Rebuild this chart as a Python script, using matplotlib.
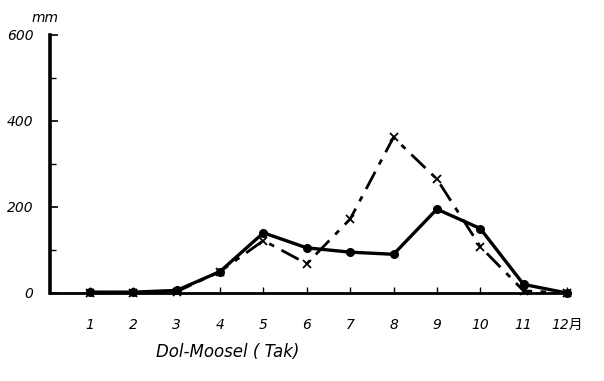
import matplotlib
matplotlib.use("Agg")
import matplotlib.pyplot as plt
from matplotlib.ticker import MultipleLocator

plt.rcParams['font.family'] = ['DejaVu Sans', 'Noto Sans CJK SC']

months = [1, 2, 3, 4, 5, 6, 7, 8, 9, 10, 11, 12]
month_labels = ["1", "2", "3", "4", "5", "6", "7", "8", "9", "10", "11", "12月"]
solid_series = [2, 2, 6, 50, 140, 105, 95, 90, 195, 150, 20, 0]
dashdot_series = [0, 0, 3, 50, 122, 68, 172, 362, 265, 108, 5, 0]
y_ticks = [0, 200, 400, 600]

fig = plt.figure(figsize=(6.04, 3.81), dpi=100)
ax = fig.add_axes([50/604, 1-293/381, 520/604, 258/381])

ax.plot(months, dashdot_series, color='black', lw=2.0, linestyle=(0, (7, 3, 2, 3)),
        marker='x', markersize=6, markeredgewidth=1.3, clip_on=False, zorder=3)
ax.plot(months, solid_series, color='black', lw=2.4, linestyle='-',
        marker='o', markersize=5.5, clip_on=False, zorder=4)

ax.set_xlim(0.078, 12.07)
ax.set_ylim(0, 600)
ax.set_xticks(months)
ax.set_xticklabels(month_labels, fontstyle='italic', fontsize=10)
ax.set_yticks(y_ticks)
ax.set_yticklabels([str(v) for v in y_ticks], fontstyle='italic', fontsize=10)
ax.yaxis.set_minor_locator(MultipleLocator(100))

ax.spines['top'].set_visible(False)
ax.spines['right'].set_visible(False)
ax.spines['left'].set_linewidth(2.6)
ax.spines['bottom'].set_linewidth(2.0)
ax.tick_params(axis='x', direction='in', length=4, width=1, pad=18)
ax.tick_params(axis='y', which='major', direction='in', length=6, width=1.2, pad=12)
ax.tick_params(axis='y', which='minor', direction='in', length=4, width=1)

fig.text(45/604, 1-18/381, "mm", fontstyle='italic', fontsize=10, ha='center', va='center')
fig.text(228/604, 1-352/381, "Dol-Moosel ( Tak)", fontstyle='italic', fontsize=12,
         ha='center', va='center')

fig.savefig("out.png", dpi=100)
